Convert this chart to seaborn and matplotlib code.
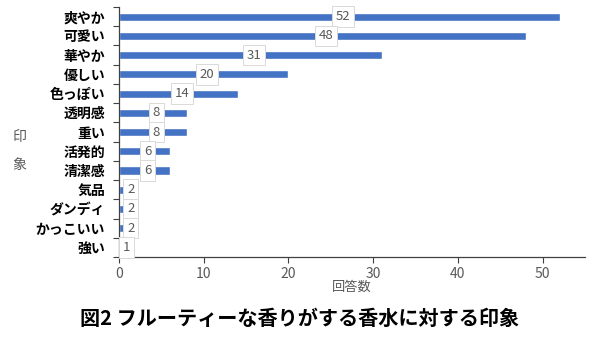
import matplotlib
matplotlib.use("Agg")
import matplotlib.pyplot as plt
import seaborn as sns
import pandas as pd

categories = ["爽やか", "可愛い", "華やか", "優しい", "色っぽい", "透明感", "重い",
              "活発的", "清潔感", "気品", "ダンディ", "かっこいい", "強い"]
values = [52, 48, 31, 20, 14, 8, 8, 6, 6, 2, 2, 2, 1]
x_ticks = [0, 10, 20, 30, 40, 50]
title = "図2 フルーティーな香りがする香水に対する印象"
xlabel = "回答数"
ylabel = "印\n\n象"

sns.set_theme(style="white")
plt.rcParams['font.family'] = ['Noto Sans CJK JP', 'DejaVu Sans']

df = pd.DataFrame({"cat": categories, "val": values})

fig = plt.figure(figsize=(6, 3.37), dpi=100)
ax = fig.add_axes([119/600, 1-257/337, (585-119)/600, (257-7)/337])
sns.barplot(data=df, y="cat", x="val", orient="h", color="#4472C4",
            saturation=1, width=0.42, ax=ax)

ax.set_xlim(0, 55)
ax.set_ylim(len(categories)-0.5, -0.5)
ax.set_xticks(x_ticks)
ax.set_xticklabels([str(t) for t in x_ticks], color="#595959", fontsize=10)
ax.set_yticks(range(len(categories)))
ax.set_yticklabels(categories, fontsize=10, fontweight="bold", color="black")
ax.tick_params(axis="y", length=0, pad=10)
ax.set_yticks([i - 0.5 for i in range(len(categories)+1)], minor=True)
ax.tick_params(axis="y", which="minor", length=4, color="#404040", width=0.8, direction="out", left=True)
ax.tick_params(axis="x", length=4, color="#404040", width=0.8, direction="out", bottom=True, pad=3)

for s in ["top", "right"]:
    ax.spines[s].set_visible(False)
for s in ["left", "bottom"]:
    ax.spines[s].set_color("#404040")
    ax.spines[s].set_linewidth(0.9)

for i, v in enumerate(values):
    ax.text(v/2 + 0.4, i, str(v), ha="center", va="center", fontsize=9.5, color="#595959",
            bbox=dict(boxstyle="square,pad=0.28", fc="white", ec="#D9D9D9", lw=0.7))

ax.set_xlabel(xlabel, color="#595959", fontsize=9.5, labelpad=0)
ax.set_ylabel("")
fig.text(19/600, 1-151/337, ylabel, ha="center", va="center", color="#595959", fontsize=10, linespacing=1.0)

fig.text(0.5, 1-318/337, title, ha="center", va="center", fontsize=14.5, fontweight="bold", color="black")

fig.savefig("out.png", dpi=100)
